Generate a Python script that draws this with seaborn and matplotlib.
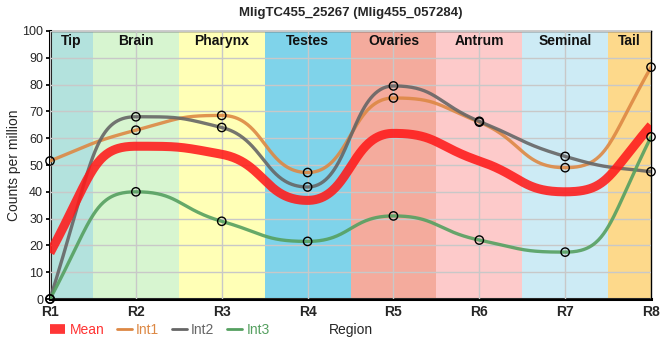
import numpy as np
import pandas as pd
import matplotlib
matplotlib.use('Agg')
import matplotlib.pyplot as plt
import seaborn as sns
from matplotlib.lines import Line2D

# Data
positions = ['R1', 'R2', 'R3', 'R4', 'R5', 'R6', 'R7', 'R8']
regions = ['Tip', 'Brain', 'Pharynx', 'Testes', 'Ovaries', 'Antrum', 'Seminal', 'Tail']
region_colors = ['#b3e2dd', '#d7f5d0', '#ffffb6', '#7fd3ea', '#f4ab9d', '#fdcaca', '#cdebf5', '#fdd98b']
int1 = [51.5, 63.0, 68.5, 47.2, 75.0, 66.0, 49.0, 86.5]
int2 = [0.0, 68.0, 64.0, 41.8, 79.5, 66.3, 53.2, 47.5]
int3 = [0.0, 40.0, 29.0, 21.5, 31.0, 22.0, 17.5, 60.5]
mean = [17.2, 57.0, 54.0, 36.8, 61.8, 51.5, 40.0, 64.8]


def smooth_curve(y, k=0.5, n=80):
    # bezier segments through unit-spaced points, monotone tangents, long handles
    y = np.asarray(y, float)
    m = len(y)
    s = np.diff(y)
    t = np.zeros(m)
    for i in range(1, m - 1):
        s0, s1 = s[i - 1], s[i]
        p = (s0 + s1) / 2
        t[i] = (np.sign(s0) + np.sign(s1)) * min(abs(s0), abs(s1), 0.5 * abs(p))
    t[0] = (3 * s[0] - t[1]) / 2
    t[-1] = (3 * s[-1] - t[-2]) / 2
    xs, ys = [], []
    u = np.linspace(0, 1, n)
    b0, b1, b2, b3 = (1 - u)**3, 3 * (1 - u)**2 * u, 3 * (1 - u) * u**2, u**3
    for i in range(m - 1):
        x0, x1 = i, i + 1
        cx = (x0, x0 + k, x1 - k, x1)
        cy = (y[i], y[i] + k * t[i], y[i + 1] - k * t[i + 1], y[i + 1])
        xs.append(b0 * cx[0] + b1 * cx[1] + b2 * cx[2] + b3 * cx[3])
        ys.append(b0 * cy[0] + b1 * cy[1] + b2 * cy[2] + b3 * cy[3])
    return np.concatenate(xs), np.concatenate(ys)


sns.set_theme(style="white")
plt.rcParams['font.family'] = ['Liberation Sans', 'DejaVu Sans']

fig, ax = plt.subplots(figsize=(6.6, 3.6), dpi=100)
fig.subplots_adjust(left=0.0758, right=0.9864, bottom=0.1694, top=0.9139)

# region bands
edges = [0, 0.5, 1.5, 2.5, 3.5, 4.5, 5.5, 6.5, 7]
for i, (name, col) in enumerate(zip(regions, region_colors)):
    ax.axvspan(edges[i], edges[i + 1], color=col, lw=0, zorder=0)
    ax.text((edges[i] + edges[i + 1]) / 2, 96.3, name, ha='center', va='center',
            fontsize=10, fontweight='bold', color='#111111', zorder=5)

ax.grid(True, color='#c8c8c8', lw=1, zorder=1)
ax.set_axisbelow(False)

series = {'Int1': (int1, '#dd8844'), 'Int2': (int2, '#666666'), 'Int3': (int3, '#55a060')}
for name, (vals, col) in series.items():
    cx, cy = smooth_curve(vals)
    sns.lineplot(x=cx, y=cy, ax=ax, color=col, lw=2.4, alpha=0.9, sort=False, zorder=3)

cx, cy = smooth_curve(mean)
sns.lineplot(x=cx, y=cy, ax=ax, color='#ff1a1a', lw=6.5, alpha=0.88, sort=False, zorder=4,
             solid_capstyle='butt')

for name, (vals, col) in series.items():
    sns.scatterplot(x=np.arange(len(vals)), y=vals, ax=ax, s=36, facecolor='none',
                    edgecolor='black', linewidth=1, zorder=6, clip_on=False)

ax.set_xlim(0, 7)
ax.set_ylim(0, 100)
ax.set_xticks(range(8))
ax.set_xticklabels(positions, fontsize=10, fontweight='bold')
ax.set_yticks(range(0, 101, 10))
ax.tick_params(axis='y', labelsize=9, length=3, color='black', left=True, pad=2)
ax.tick_params(axis='x', length=0, pad=4)
ax.set_ylabel('Counts per million', fontsize=10, labelpad=1)
ax.set_xlabel('Region', fontsize=10, labelpad=3)
ax.set_title('MligTC455_25267 (Mlig455_057284)', fontsize=9.5, fontweight='bold', pad=11)

for side in ['top', 'right']:
    ax.spines[side].set_color('black')
    ax.spines[side].set_linewidth(1)
for side in ['left', 'bottom']:
    ax.spines[side].set_color('black')
    ax.spines[side].set_linewidth(2.2)

handles = [Line2D([], [], color='#ff1a1a', lw=7, alpha=0.88, solid_capstyle='butt'),
           Line2D([], [], color='#dd8844', lw=2),
           Line2D([], [], color='#666666', lw=2),
           Line2D([], [], color='#55a060', lw=2)]
labels = ['Mean', 'Int1', 'Int2', 'Int3']
leg = ax.legend(handles, labels, loc='center left', bbox_to_anchor=(0.0, -0.115), ncol=4,
                frameon=False, fontsize=10, handlelength=1.1, handletextpad=0.3,
                columnspacing=0.9, borderaxespad=0, borderpad=0)
for txt, h in zip(leg.get_texts(), ['#ff3333', '#dd8844', '#666666', '#55a060']):
    txt.set_color(h)

plt.savefig('out.png', dpi=100)
